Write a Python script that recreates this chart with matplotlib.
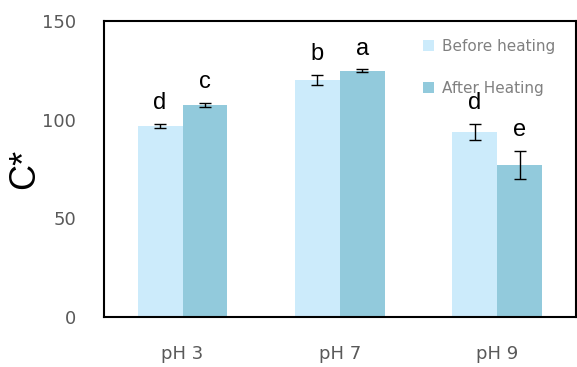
import numpy as np
import matplotlib.pyplot as plt

groups = ["pH 3", "pH 7", "pH 9"]
before = [96.8, 120.1, 93.8]
before_err = [1.0, 2.5, 4.0]
after = [107.4, 124.7, 77.0]
after_err = [1.0, 0.7, 7.0]
before_letters = ["d", "b", "d"]
after_letters = ["c", "a", "e"]

c_before = "#CCEBFB"
c_after = "#92CADC"
grey = "#595959"
legend_grey = "#808080"

fig = plt.figure(figsize=(5.77, 3.67), dpi=100)
ax = fig.add_axes([0.180, 0.136, 0.818, 0.807])

x = np.arange(len(groups))
w = 0.285
ekw = dict(lw=1, capthick=1, ecolor="black")
ax.bar(x - w / 2, before, w, color=c_before, label="Before heating",
       yerr=before_err, capsize=4, error_kw=ekw)
ax.bar(x + w / 2, after, w, color=c_after, label="After Heating",
       yerr=after_err, capsize=4, error_kw=ekw)

# significance letters above the error bars
for xs, vals, errs, letters in [(x - w / 2, before, before_err, before_letters),
                                (x + w / 2, after, after_err, after_letters)]:
    for xi, v, e, t in zip(xs, vals, errs, letters):
        ax.text(xi, v + e + 7.5, t, ha="center", va="baseline", fontsize=17,
                family="Liberation Sans", color="black")

ax.set_xlim(-0.5, 2.5)
ax.set_ylim(0, 150)
ax.set_yticks([0, 50, 100, 150])
ax.set_xticks(x)
ax.set_xticklabels(groups)
ax.tick_params(axis="both", length=0, labelsize=13, labelcolor=grey)
ax.tick_params(axis="x", pad=20)
ax.tick_params(axis="y", pad=20)
for s in ax.spines.values():
    s.set_linewidth(1.5)
    s.set_color("black")

ax.set_ylabel("C*", fontsize=26, family="Liberation Sans", labelpad=0)

ax.legend(loc="upper right", bbox_to_anchor=(0.985, 0.985), frameon=False,
          fontsize=11, labelcolor=legend_grey, handlelength=0.7, handleheight=0.7,
          labelspacing=1.75, handletextpad=0.5)

fig.savefig("out.png", dpi=100)
